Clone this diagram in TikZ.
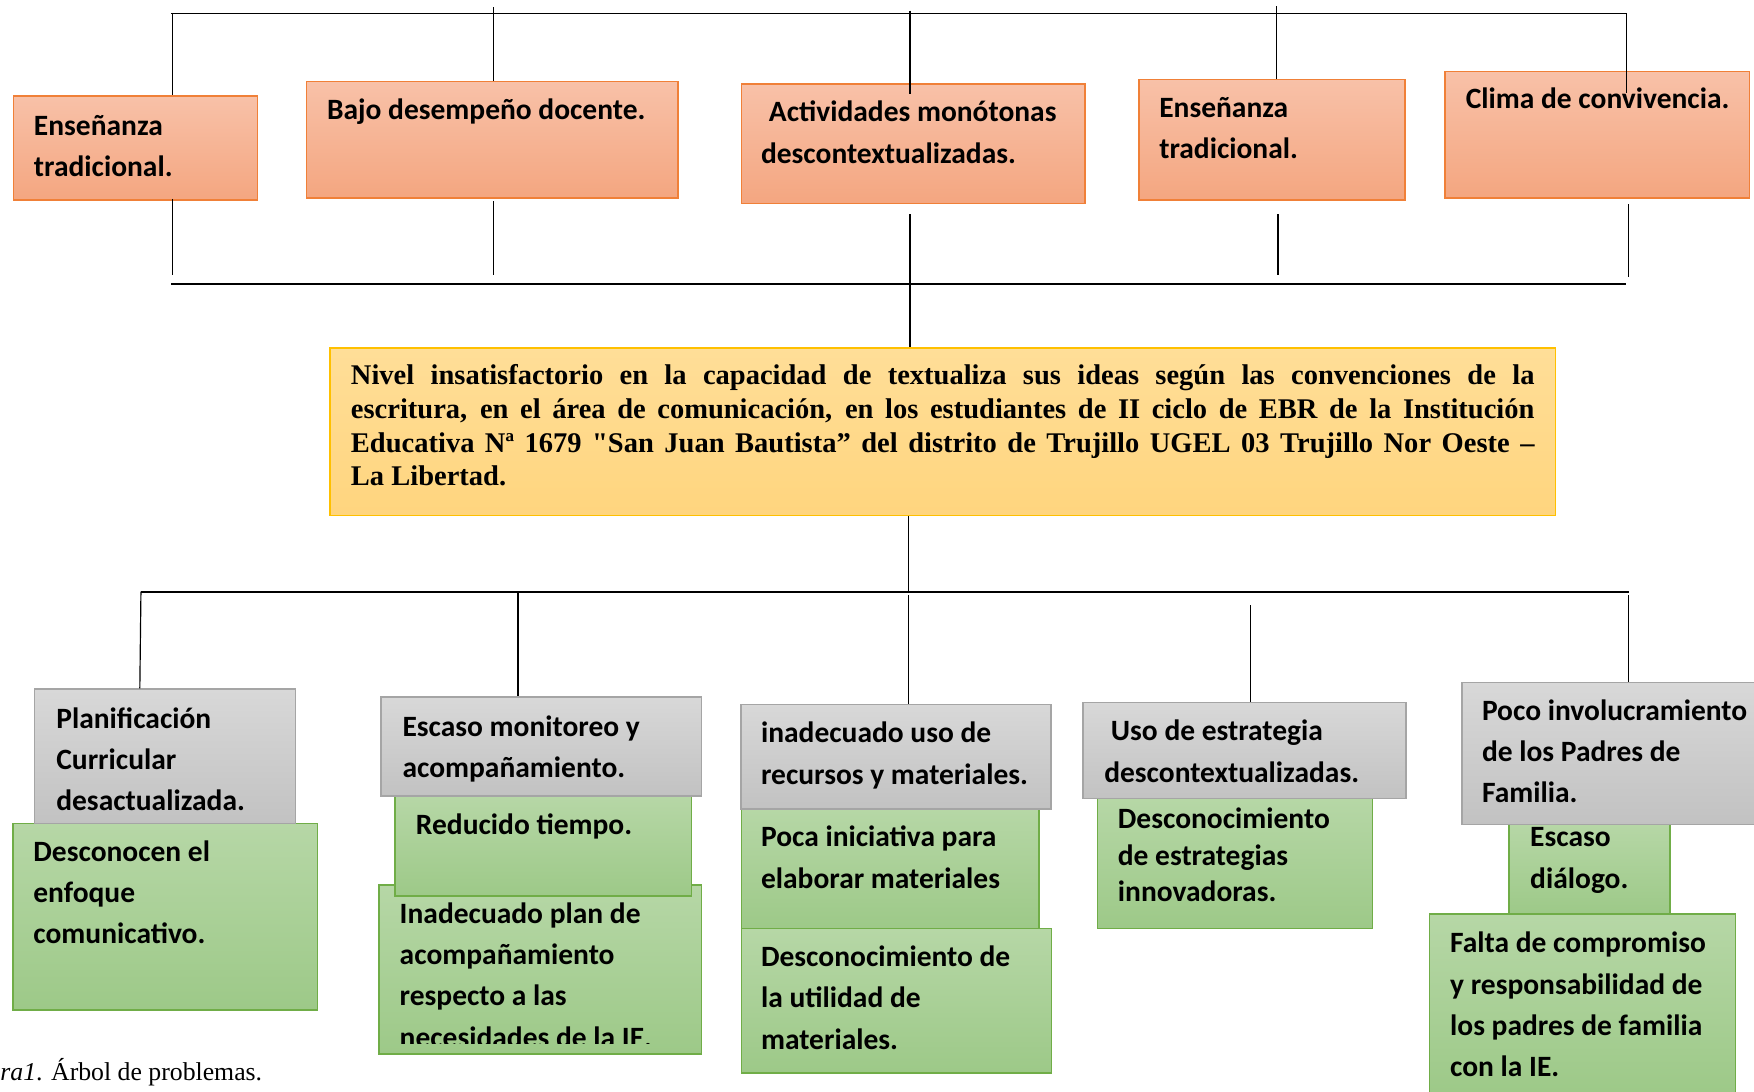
\documentclass[tikz,border=0pt]{standalone}
\usepackage{fontspec}
\setmainfont{Liberation Serif}[Ligatures=TeXOff]
\newfontfamily\carlito{Carlito}
\usepackage{xcolor}
\usepackage{tikz}
\usetikzlibrary{fit, calc}

\definecolor{effTop}{RGB}{248,193,168}
\definecolor{effBot}{RGB}{244,166,128}
\definecolor{effLine}{RGB}{240,128,56}
\definecolor{probTop}{RGB}{255,222,152}
\definecolor{probBot}{RGB}{255,213,126}
\definecolor{probLine}{RGB}{255,192,0}
\definecolor{causeTop}{RGB}{216,216,216}
\definecolor{causeBot}{RGB}{194,194,194}
\definecolor{causeLine}{RGB}{165,165,165}
\definecolor{rootTop}{RGB}{182,215,166}
\definecolor{rootBot}{RGB}{157,201,136}
\definecolor{rootLine}{RGB}{112,173,71}

\tikzset{
  effbox/.style={draw=effLine, line width=0.8pt, top color=effTop, bottom color=effBot, inner sep=0pt},
  probbox/.style={draw=probLine, line width=0.8pt, top color=probTop, bottom color=probBot, inner sep=0pt},
  causebox/.style={draw=causeLine, line width=0.8pt, top color=causeTop, bottom color=causeBot, inner sep=0pt},
  rootbox/.style={draw=rootLine, line width=0.8pt, top color=rootTop, bottom color=rootBot, inner sep=0pt},
  boxtext/.style={anchor=base west, inner sep=0pt, text width=6.5cm, align=flush left, font=\carlito\bfseries\fontsize{15}{21}\selectfont},
  bar/.style={line width=0.9pt},
  stem/.style={line width=0.6pt}
}

\begin{document}
\begin{tikzpicture}[x=0.2mm, y=-0.2mm]
\useasboundingbox (0,0) rectangle (1568,976);

% effects
\node[effbox, fit={(12,86) (230,179)}] (e1) {};
\node[boxtext] (e1t) at (30,121) {Enseñanza\\tradicional.};
\node[effbox, fit={(274,73) (606,177)}] (e2) {};
\node[boxtext] (e2t) at (292,107) {Bajo desempeño docente.};
\node[effbox, fit={(663,75) (970,182)}] (e3) {};
\node[boxtext] (e3t) at (680,109) {\hspace*{0.14cm}Actividades monótonas\\descontextualizadas.};
\node[effbox, fit={(1018,71) (1256,179)}] (e4) {};
\node[boxtext] (e4t) at (1036,105) {Enseñanza\\tradicional.};
\node[effbox, fit={(1292,64) (1564,177)}] (e5) {};
\node[boxtext, text width=5cm] (e5t) at (1310,97) {Clima de convivencia.};

% central problem
\node[probbox, fit={(295,311) (1390.5,461)}] (prob) {};
\node[anchor=base west, inner sep=0pt, text width=21.16cm, align=justify,
  font=\bfseries\fontsize{14.5}{17.1}\selectfont] (probt) at (313.4,344)
  {Nivel insatisfactorio en la capacidad de textualiza sus ideas según las convenciones de la\linebreak
   escritura, en el área de comunicación, en los estudiantes de II ciclo de EBR de la Institución\linebreak
   Educativa Nª 1679 "San Juan Bautista” del distrito de Trujillo UGEL 03 Trujillo Nor Oeste –\linebreak
   La Libertad.};

% causes
\node[rootbox, fit={(11.5,736) (284,903)}] (c1b) {};
\node[causebox, fit={(31,616) (264,736)}] (c1) {};
\node[boxtext] (c1t) at (50,651) {Planificación\\Curricular\\desactualizada.};
\node[boxtext] (c1bt) at (29.5,770) {Desconocen el\\enfoque\\comunicativo.};

\node[rootbox, fit={(339,791) (627,942)}] (c2c) {};
\node[rootbox, fit={(353,711.6) (618,801)}] (c2b) {};
\node[causebox, fit={(340.7,623) (627,711.6)}] (c2) {};
\node[boxtext] (c2t) at (359.5,658) {Escaso monitoreo y\\acompañamiento.};
\node[boxtext] (c2bt) at (371.5,745.6) {Reducido tiempo.};
\begin{scope}
\clip (339,791) rectangle (627,933);
\node[boxtext] (c2ct) at (357,825.4) {Inadecuado plan de\\acompañamiento\\respecto a las\\necesidades de la IE.};
\end{scope}

\node[rootbox, fit={(663,723) (929,830)}] (c3b) {};
\node[rootbox, fit={(663,830) (940,959)}] (c3c) {};
\node[causebox, fit={(662.5,629.7) (939.6,723)}] (c3) {};
\node[boxtext] (c3t) at (680,664) {inadecuado uso de\\recursos y materiales.};
\node[boxtext] (c3bt) at (680,757) {Poca iniciativa para\\elaborar materiales};
\node[boxtext] (c3ct) at (680,864) {Desconocimiento de\\la utilidad de\\materiales.};

\node[rootbox, fit={(981,714) (1227,830)}] (c4b) {};
\node[causebox, fit={(968,628) (1257,714)}] (c4) {};
\node[boxtext] (c4t) at (986.8,662.4) {\hspace*{0.12cm}Uso de estrategia\\descontextualizadas.};
\node[boxtext, font=\carlito\bfseries\fontsize{15}{18.7}\selectfont] (c4bt) at (999,740.5) {Desconocimiento\\de estrategias\\innovadoras.};

\node[rootbox, fit={(1349,737) (1493,817)}] (c5b) {};
\node[rootbox, fit={(1278,817) (1551.5,978)}] (c5c) {};
\node[causebox, fit={(1307,610) (1570,737)}] (c5) {};
\node[boxtext, text width=4.8cm] (c5t) at (1324.5,643.7) {Poco involucramiento\\de los Padres de\\Familia.};
\node[boxtext, text width=3cm] (c5bt) at (1367.6,757) {Escaso\\diálogo.};
\node[boxtext, text width=5cm] (c5ct) at (1296,851.7) {Falta de compromiso\\y responsabilidad de\\los padres de familia\\con la IE.};

% bars
\coordinate (tl) at (153,12);
\coordinate (tr) at (1454,12);
\coordinate (ml) at (153,254);
\coordinate (mr) at (1454,254);
\coordinate (bl) at (126,529);
\coordinate (br) at (1456,529);
\draw[bar] (tl) -- (tr);
\draw[bar] (ml) -- (mr);
\draw[bar] (bl) -- (br);

% stems, top row
\draw[stem] (154,12) -- (e1.north -| 154,0);
\draw[stem] (441.5,6.5) -- (e2.north -| 441.5,0);
\draw[stem] (813.5,9.5) -- (e3.north -| 813.5,0) -- ++(0,10);
\draw[stem] (1141,5.4) -- (e4.north -| 1141,0);
\draw[stem] (1454,12) -- (e5.north -| 1454,0) -- ++(0,20);
\draw[stem] (e1.south -| 154,0) ++(0,-2) -- (154,246);
\draw[stem] (e2.south -| 441.5,0) ++(0,2) -- (441.5,246);
\draw[stem] (e3.south -| 813.5,0) ++(0,9) -- (prob.north -| 813.5,0);
\draw[stem] (e4.south -| 1142.5,0) ++(0,12) -- (1142.5,246);
\draw[stem] (e5.south -| 1455.5,0) ++(0,5) -- (1455.5,248);

% stems, bottom row
\draw[stem] (prob.south -| 812,0) -- (812,529);
\draw[stem] (126,529) -- (c1.north -| 125,0);
\draw[stem] (463,529) -- (c2.north -| 463,0);
\draw[stem] (812,532) -- (c3.north -| 812,0);
\draw[stem] (1117.6,541) -- (c4.north -| 1117.6,0);
\draw[stem] (1456,532) -- (c5.north -| 1456,0);

\node[anchor=base west, inner sep=0pt, font=\fontsize{13.1}{16}\selectfont] (caption) at (0,965.5) {\textit{ra1}. Árbol de problemas.};
\end{tikzpicture}
\end{document}
